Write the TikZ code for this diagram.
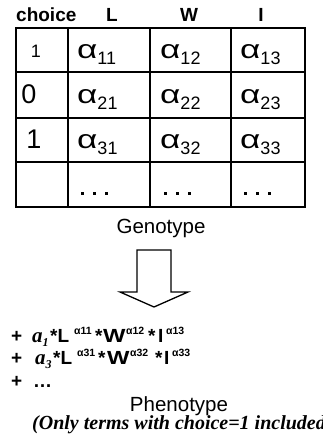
\documentclass[tikz,border=0pt]{standalone}
\usepackage{fontspec}
\setmainfont{Liberation Sans}
\newfontfamily\tnr{Liberation Serif}
\usepackage{graphicx}
\newcommand\al[1]{{\fontsize{26}{26}\selectfont\scalebox{1.35}[1]{α}}\raisebox{-6pt}{\fontsize{18}{18}\selectfont #1}}
\newcommand\wideW{\scalebox{1.25}[1]{W}}
\newcommand\fa[1]{{\fontsize{21}{21}\selectfont\tnr\bfseries\itshape a}\raisebox{-4pt}{\fontsize{12}{12}\selectfont\tnr\bfseries\itshape #1}}
\tikzset{
  outer/.style={line width=2.6pt},
  inner/.style={line width=1.5pt},
  hdr/.style={anchor=base,inner sep=0pt,font=\fontsize{19}{19}\selectfont\bfseries},
  cell/.style={anchor=base west,inner sep=0pt},
  dotsq/.style={fill=black,minimum size=3pt,inner sep=0pt,draw=none},
  term/.style={anchor=base west,inner sep=0pt,font=\fontsize{19}{19}\selectfont\bfseries},
  expo/.style={anchor=base west,inner sep=0pt,font=\fontsize{10.5}{10.5}\selectfont\bfseries},
  blockarrow/.style={line width=1.3pt,fill=white,line join=miter}
}
\begin{document}
\begin{tikzpicture}[x=1pt,y=-1pt]
\useasboundingbox (0,0) rectangle (323,438);
% header
\node[hdr,anchor=base west] (hchoice) at (16,22) {choice};
\node[hdr] (hL) at (112,22) {L};
\node[hdr] (hW) at (189,22) {W};
\node[hdr] (hI) at (261,22) {I};
% grid
\draw[inner] (68,28) -- (68,207) (150,28) -- (150,207) (231,28) -- (231,207);
\draw[inner] (16,72) -- (305,72) (16,118) -- (305,118) (16,162) -- (305,162);
\draw[outer] (16,28) rectangle (305,207);
% row labels
\node[anchor=base,inner sep=0pt,font=\fontsize{18}{18}\selectfont] (r1) at (36,58) {1};
\node[anchor=base,inner sep=0pt,font=\fontsize{27}{27}\selectfont] (r2) at (29,104) {0};
\node[anchor=base,inner sep=0pt,font=\fontsize{27}{27}\selectfont] (r3) at (34,149) {1};
% alpha cells
\node[cell] (a11) at (77,59) {\al{11}};
\node[cell] (a12) at (160,59) {\al{12}};
\node[cell] (a13) at (240,59) {\al{13}};
\node[cell] (a21) at (77,104) {\al{21}};
\node[cell] (a22) at (160,104) {\al{22}};
\node[cell] (a23) at (240,104) {\al{23}};
\node[cell] (a31) at (77,149) {\al{31}};
\node[cell] (a32) at (160,149) {\al{32}};
\node[cell] (a33) at (240,149) {\al{33}};
% dots
\foreach \cx [count=\i] in {82,165,245}{
  \foreach \dx [count=\j] in {0,12,24}{
    \node[dotsq] (d\i\j) at (\cx+\dx,193) {};
  }
}
% Genotype
\node[anchor=base,inner sep=0pt,font=\fontsize{20.5}{20.5}\selectfont] (geno) at (161,233) {Genotype};
% block arrow
\draw[blockarrow] (137,250) -- (171,250) -- (171,292) -- (188,292) -- (154,307) -- (120,292) -- (137,292) -- cycle;
% formula line 1
\node[term] (p1) at (11,342) {+};
\node[term] (c1) at (32,342) {\fa{1}};
\node[term] (l1) at (50,342) {*L};
\node[expo] (e11) at (74,334) {α11};
\node[term] (m11) at (95,342) {*};
\node[term] (w1) at (103,342) {\wideW};
\node[expo] (e12) at (126,334) {α12};
\node[term] (m12) at (148,342) {*};
\node[term] (i1) at (158,342) {I};
\node[expo] (e13) at (166,334) {α13};
% formula line 2
\node[term] (p2) at (11,364) {+};
\node[term] (c2) at (35,364) {\fa{3}};
\node[term] (l2) at (53,364) {*L};
\node[expo] (e31) at (77,356) {α31};
\node[term] (m21) at (98,364) {*};
\node[term] (w2) at (107,364) {\wideW};
\node[expo] (e32) at (130,356) {α32};
\node[term] (m22) at (155,364) {*};
\node[term] (i2) at (164,364) {I};
\node[expo] (e33) at (172,356) {α33};
% formula line 3
\node[term] (p3) at (11,387) {+};
\node[term] (dd) at (33,387) {\dots};
% Phenotype
\node[anchor=base,inner sep=0pt,font=\fontsize{20.5}{20.5}\selectfont] (pheno) at (179,411) {Phenotype};
\node[anchor=base west,inner sep=0pt,font=\fontsize{20}{20}\selectfont\tnr\bfseries\itshape] (note) at (32,429) {(Only terms with choice=1 included,};
\end{tikzpicture}
\end{document}
